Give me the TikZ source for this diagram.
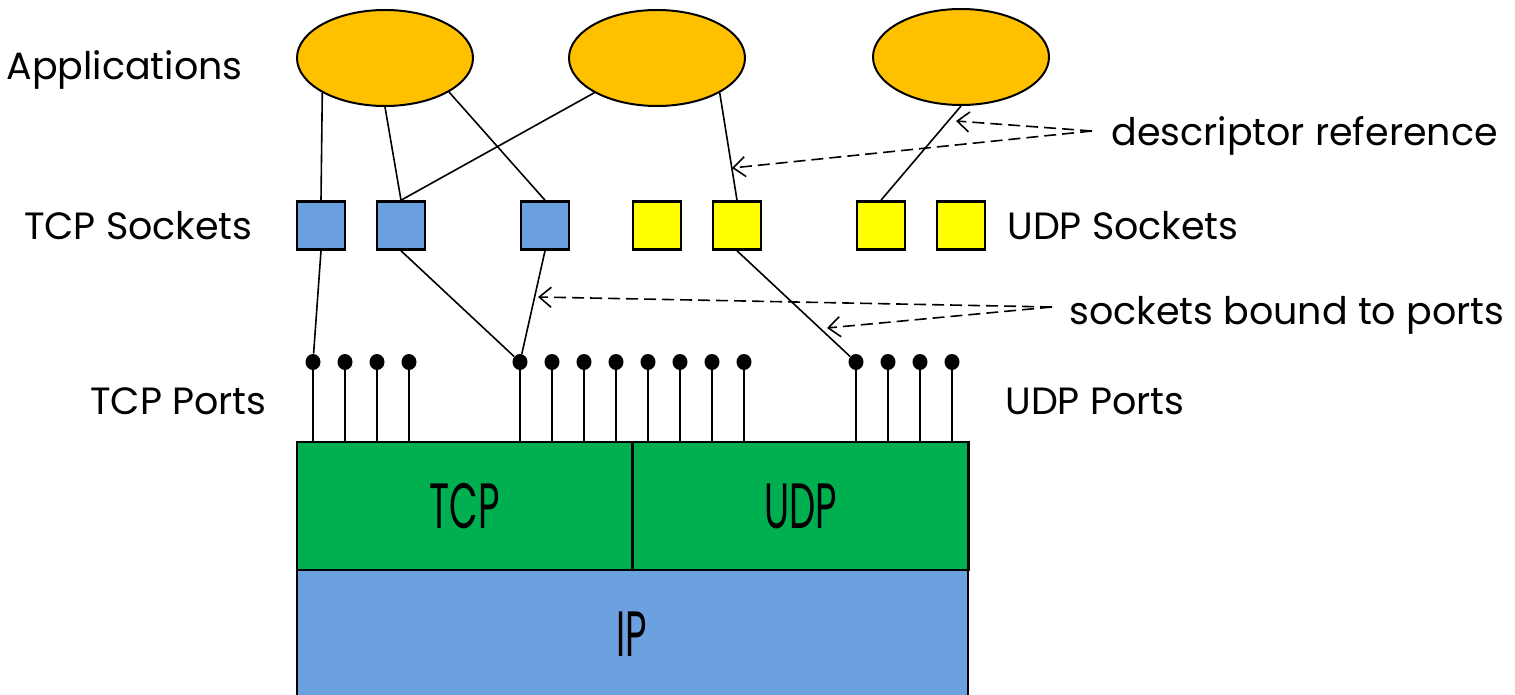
\documentclass[tikz,border=0pt]{standalone}
\usepackage{fontspec}
\setmainfont{Poppins}
\usetikzlibrary{shapes.geometric,arrows.meta}
\definecolor{appor}{HTML}{FFC000}
\definecolor{sockblue}{HTML}{6CA1DF}
\definecolor{sockyel}{HTML}{FFFF00}
\definecolor{layergreen}{HTML}{00B050}
\begin{document}
\begin{tikzpicture}[x=0.5pt,y=-0.5pt,
  app/.style={ellipse, draw, line width=1pt, fill=appor, minimum width=88pt, minimum height=48pt, inner sep=0pt},
  tsock/.style={rectangle, draw, line width=1.3pt, fill=sockblue, minimum size=24pt, inner sep=0pt},
  usock/.style={tsock, fill=sockyel},
  port/.style={ellipse, fill=black, minimum width=7.5pt, minimum height=8pt, inner sep=0pt},
  link/.style={line width=0.8pt},
  layer/.style={rectangle, draw, line width=1.2pt, fill=layergreen, minimum width=168pt, minimum height=64pt, inner sep=0pt, font=\fontsize{32}{32}\selectfont},
  lbl/.style={inner sep=0pt, font=\fontsize{19}{21}\selectfont},
  note/.style={line width=0.8pt, dash pattern=on 6pt off 3pt, -{Straight Barb[length=6pt,width=10pt]}}
]
\useasboundingbox (0,0) rectangle (1515,695);

% IP layer (runs off the bottom)
\fill[sockblue] (297,570) rectangle (968,695);
\draw[line width=1.2pt] (297,697) -- (297,570) -- (968,570) -- (968,697);
\node[inner sep=0pt] (ip) at (632,634) {\scalebox{0.58}[1]{\fontsize{32}{32}\selectfont IP}};

% TCP / UDP layers
\node[layer] (tcp) at (465,506) {\scalebox{0.58}[1]{TCP}};
\node[layer] (udp) at (800.5,506) {\scalebox{0.58}[1]{UDP}};

% applications
\node[app] (e1) at (385,58) {};
\node[app] (e2) at (657,58) {};
\node[app] (e3) at (961,57) {};

% sockets
\node[tsock] (s1) at (321,225.5) {};
\node[tsock] (s2) at (401,225.5) {};
\node[tsock] (s3) at (545,225.5) {};
\node[usock] (s4) at (657,225.5) {};
\node[usock] (s5) at (737,225.5) {};
\node[usock] (s6) at (881,225.5) {};
\node[usock] (s7) at (961,225.5) {};

% ports
\foreach \x [count=\i] in {313,345,377,409,520,552,584,616,648,680,712,744,856,888,920,952} {
  \node[port] (p\i) at (\x,362) {};
  \draw[link] (p\i.center) -- (p\i.center |- tcp.north);
}

% application -> socket
\draw[link] (e1.-151) -- (s1.north);
\draw[link] (e1.south) -- (s2.north);
\draw[link] (e1.-28.7) -- (s3.north);
\draw[link] (e2.-151) -- (s2.north);
\draw[link] (e2.-29.4) -- (s5.north);
\draw[link] (e3.south) -- (s6.north);

% socket -> port
\draw[link] (s1.south) -- (p1);
\draw[link] (s2.south) -- (p5);
\draw[link] (s3.south) -- (p5);
\draw[link] (s5.south) -- (p13);

% labels
\node[lbl, anchor=base east] (lapp) at (243,80) {Applications};
\node[lbl, anchor=base east] (ltsock) at (253,240) {TCP Sockets};
\node[lbl, anchor=base east] (ltport) at (267,414) {TCP Ports};
\node[lbl, anchor=base west] (lusock) at (1007,240) {UDP Sockets};
\node[lbl, anchor=base west] (luport) at (1005,414) {UDP Ports};
\node[lbl, anchor=base west] (ldesc) at (1111,146) {descriptor reference};
\node[lbl, anchor=base west] (lbound) at (1069,324) {sockets bound to ports};

% annotation arrows
\coordinate (dsrc) at (1092,131);
\coordinate (dtip1) at (956,121);
\coordinate (dtip2) at (732,168);
\coordinate (bsrc) at (1052,307);
\coordinate (btip1) at (538,297);
\coordinate (btip2) at (827,328);
\draw[note] (dsrc) -- (dtip1);
\draw[note] (dsrc) -- (dtip2);
\draw[note] (bsrc) -- (btip1);
\draw[note] (bsrc) -- (btip2);
\end{tikzpicture}
\end{document}
